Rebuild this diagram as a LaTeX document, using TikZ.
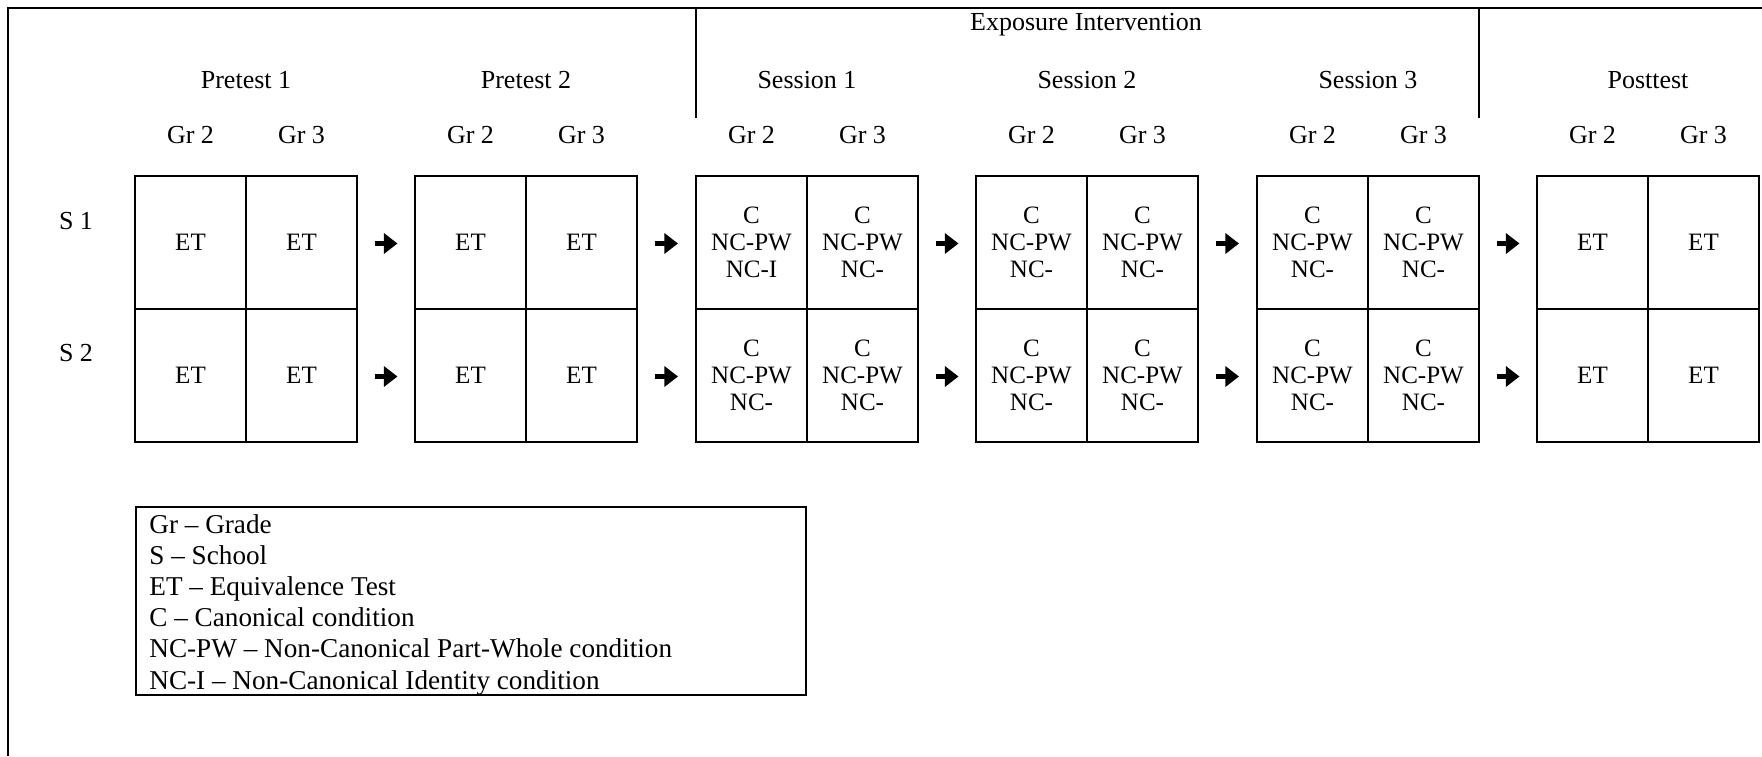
\documentclass[tikz,border=0pt]{standalone}
\usepackage{fontspec}
\setmainfont{Liberation Serif}
\usetikzlibrary{arrows.meta,calc}
\begin{document}
\begin{tikzpicture}[x=0.5pt,y=-0.5pt,
  every node/.style={font=\fontsize{13}{15.6}\selectfont, inner sep=0pt},
  rule/.style={line width=1.1pt},
  cell/.style={draw, line width=1.1pt, minimum width=55.5pt, minimum height=66.5pt,
    inner sep=0pt, align=center, font=\fontsize{12.5}{13.6}\selectfont},
  bigarrow/.style={line width=2.8pt, -{Triangle[length=6.8pt,width=10pt]}},
  legline/.style={anchor=base west, font=\fontsize{13.6}{15.6}\selectfont}]
\useasboundingbox (0,0) rectangle (1762,756);
% frame
\draw[rule] (8,756) -- (8,8) -- (1762,8);
\draw[rule] (696,8) -- (696,118);
\draw[rule] (1479,8) -- (1479,118);
\node (exp) at (1086,25) {Exposure Intervention};
\def\ses{C\\NC-PW\\NC-}
\def\sesI{C\\NC-PW\\NC-I}
% cells
\foreach \n/\l/\ta/\tb/\tc/\td in {
  pa/135/ET/ET/ET/ET,
  pb/415/ET/ET/ET/ET,
  sa/696/\sesI/\ses/\ses/\ses,
  sb/976/\ses/\ses/\ses/\ses,
  sc/1257/\ses/\ses/\ses/\ses,
  po/1537/ET/ET/ET/ET}{
  \node[cell] (\n11) at (\l+55.5,242.5) {\ta};
  \node[cell] (\n12) at (\l+166.5,242.5) {\tb};
  \node[cell] (\n21) at (\l+55.5,375.5) {\tc};
  \node[cell] (\n22) at (\l+166.5,375.5) {\td};
}
% headers
\foreach \n/\l/\t in {pa/135/Pretest 1, pb/415/Pretest 2, sa/696/Session 1,
  sb/976/Session 2, sc/1257/Session 3, po/1537/Posttest}{
  \node (h\n) at (\l+111,80) {\t};
  \node (g\n a) at (\l+55.5,135) {Gr 2};
  \node (g\n b) at (\l+166.5,135) {Gr 3};
}
% school labels
\node (s1) at (76,221) {S 1};
\node (s2) at (76,353) {S 2};
% arrows
\foreach \a/\b in {pa/pb, pb/sa, sa/sb, sb/sc, sc/po}{
  \foreach \r in {1,2}{
    \draw[bigarrow] ($(\a\r2.east)!0.5!(\b\r1.west)+(-11.5,1)$) -- ($(\a\r2.east)!0.5!(\b\r1.west)+(11.5,1)$);
  }
}
% legend
\node[draw, line width=1.1pt, minimum width=335pt, minimum height=94pt, anchor=north west] (legend) at (135,506) {};
\node[legline] (l1) at (149,533) {Gr -- Grade};
\node[legline] (l2) at (149,564.2) {S -- School};
\node[legline] (l3) at (149,595.4) {ET -- Equivalence Test};
\node[legline] (l4) at (149,626.6) {C -- Canonical condition};
\node[legline] (l5) at (149,657.8) {NC-PW -- Non-Canonical Part-Whole condition};
\node[legline] (l6) at (149,689) {NC-I -- Non-Canonical Identity condition};
\end{tikzpicture}
\end{document}
